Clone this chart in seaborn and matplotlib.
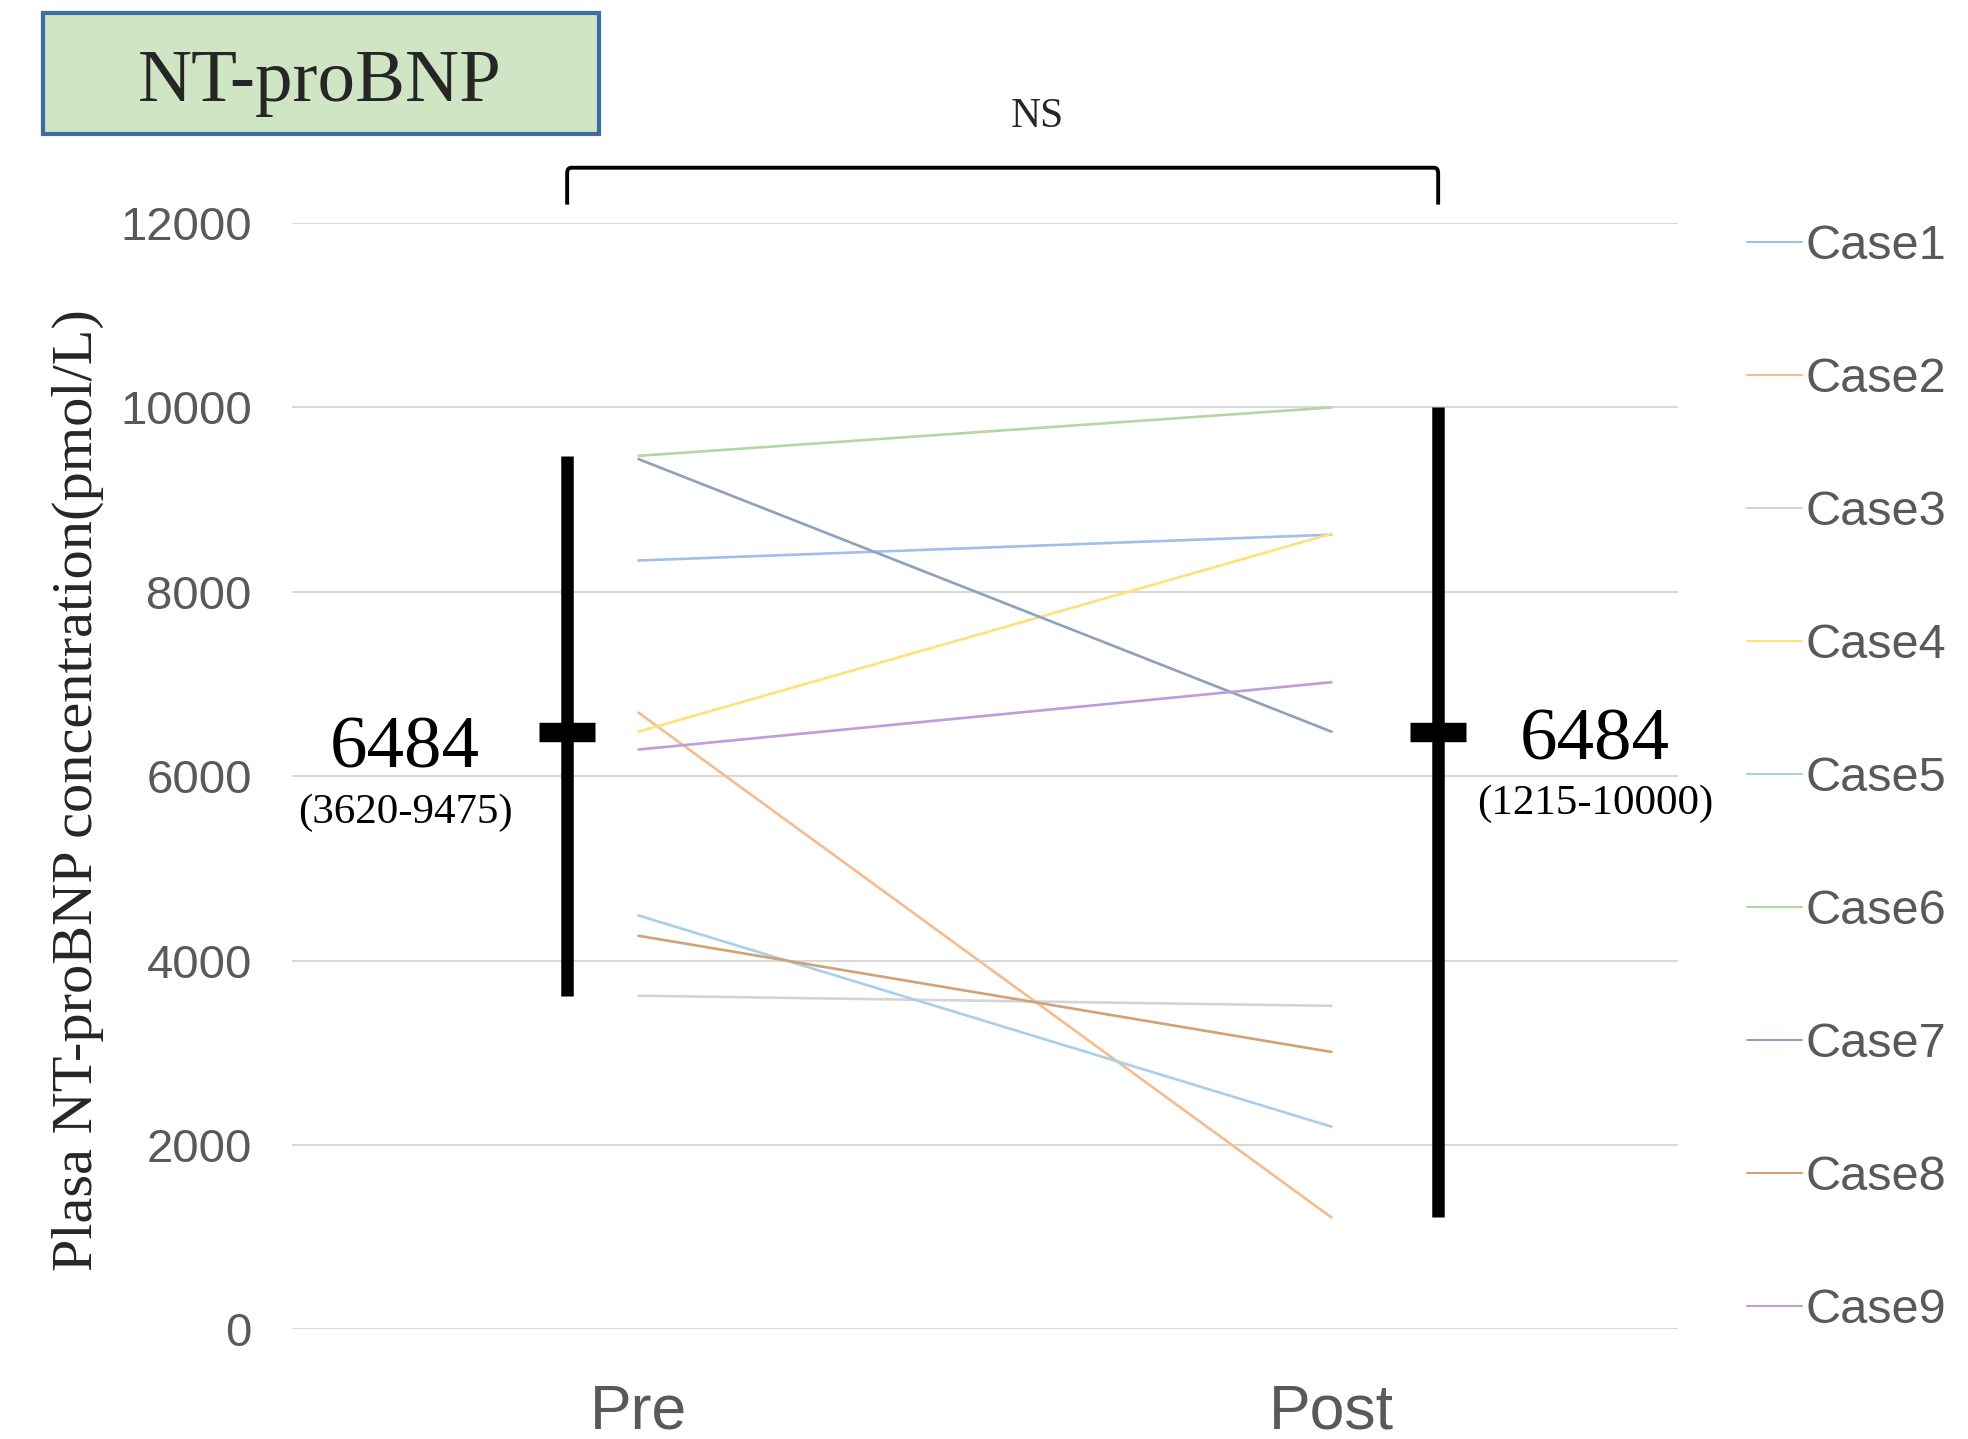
import matplotlib
matplotlib.use("Agg")
import matplotlib.pyplot as plt
import seaborn as sns
import pandas as pd
from matplotlib.patches import Rectangle
from matplotlib.path import Path
from matplotlib.patches import PathPatch

# ---- data ----
timepoints = ["Pre", "Post"]
cases = ["Case1", "Case2", "Case3", "Case4", "Case5", "Case6", "Case7", "Case8", "Case9"]
pre_values = [8340, 6690, 3620, 6484, 4490, 9475, 9440, 4270, 6290]
post_values = [8620, 1215, 3510, 8630, 2200, 10000, 6484, 3010, 7020]
medians = [6484, 6484]
range_low = [3620, 1215]
range_high = [9475, 10000]
colors = ["#A3BEE8", "#F5BC8C", "#D4D4D4", "#FFE07A", "#A9CFEC",
          "#B5D6A3", "#8EA0BD", "#D3A274", "#BF9DDB"]

rows = []
for c, a, b in zip(cases, pre_values, post_values):
    rows.append({"case": c, "time": timepoints[0], "value": a})
    rows.append({"case": c, "time": timepoints[1], "value": b})
df = pd.DataFrame(rows)

sns.set_theme(style="white")
serif = ["Liberation Serif", "DejaVu Serif"]
sans = ["Liberation Sans", "DejaVu Sans"]
plt.rcParams["font.family"] = sans

fig = plt.figure(figsize=(19.68, 14.39), dpi=100)
ax = fig.add_axes([0.1484, 0.0761, 0.7042, 0.7689])

sns.lineplot(data=df, x="time", y="value", hue="case", palette=colors,
             linewidth=1.9, ax=ax, sort=False, legend=False)

ax.set_xlim(-0.5, 1.5)
ax.set_ylim(0, 12000)
ax.set_yticks(range(0, 12001, 2000))
ax.set_xticks([0, 1])
ax.set_xticklabels(timepoints)
ax.grid(axis="y", color="#D9D9D9", linewidth=1.5)
ax.grid(axis="x", visible=False)
for s in ax.spines.values():
    s.set_visible(False)
ax.tick_params(axis="y", labelsize=34, labelcolor="#595959", length=0, pad=29)
ax.tick_params(axis="x", labelsize=45, labelcolor="#595959", length=0, pad=38)
ax.set_xlabel("")
ax.set_ylabel("")

# median/range bars
bar_x = [-0.103, 1.154]
for i in range(2):
    ax.plot([bar_x[i], bar_x[i]], [range_low[i], range_high[i]], color="black",
            linewidth=9, solid_capstyle="butt", clip_on=False, zorder=5)
    ax.plot([bar_x[i] - 0.04, bar_x[i] + 0.04], [medians[i], medians[i]], color="black",
            linewidth=14, solid_capstyle="butt", clip_on=False, zorder=5)

label_x = [-0.337, 1.380]
num_dy = [-200, -110]
range_dy = [-880, -780]
for i in range(2):
    ax.text(label_x[i], medians[i] + num_dy[i], f"{medians[i]}", fontsize=54, family=serif,
            ha="center", va="center", color="black")
    ax.text(label_x[i], medians[i] + range_dy[i],
            f"({range_low[i]}-{range_high[i]})", fontsize=31, family=serif,
            ha="center", va="center", color="black")

# significance bracket
x0, x1 = bar_x
ytop, ybot, r = 12600, 12200, 0.006
ax.add_patch(PathPatch(Path([(x0, ybot), (x0, ytop - 60), (x0, ytop), (x0 + r, ytop),
                             (x1 - r, ytop), (x1, ytop), (x1, ytop - 60), (x1, ybot)],
                            [Path.MOVETO, Path.LINETO, Path.CURVE3, Path.CURVE3,
                             Path.LINETO, Path.CURVE3, Path.CURVE3, Path.LINETO]),
                       facecolor="none", edgecolor="black", linewidth=2.8, clip_on=False))
ax.text(0.576, 13150, "NS", fontsize=30, family=serif, ha="center", va="center")

# legend
handles = ax.get_lines()[:len(cases)]
leg = ax.legend(handles, cases, loc="upper left", bbox_to_anchor=(0.8875, 0.844),
                bbox_transform=fig.transFigure, frameon=False, fontsize=35,
                handlelength=1.13, handletextpad=0.08, labelspacing=1.81,
                borderaxespad=0, borderpad=0)
for t in leg.get_texts():
    t.set_color("#595959")
for h in leg.get_lines():
    h.set_linewidth(1.5)

# y label
fig.text(0.0396, 0.451, "Plasa NT-proBNP concentration(pmol/L)", rotation=90,
         fontsize=42, family=serif, ha="center", va="center")

# title box
fig.patches.append(Rectangle((0.02185, 0.9069), 0.2825, 0.0841, transform=fig.transFigure,
                             facecolor="#CFE5C4", edgecolor="#3F6BA6", linewidth=3))
fig.text(0.1626, 0.942, "NT-proBNP", fontsize=54, family=serif, ha="center", va="center")

fig.savefig("out.png", dpi=100)
